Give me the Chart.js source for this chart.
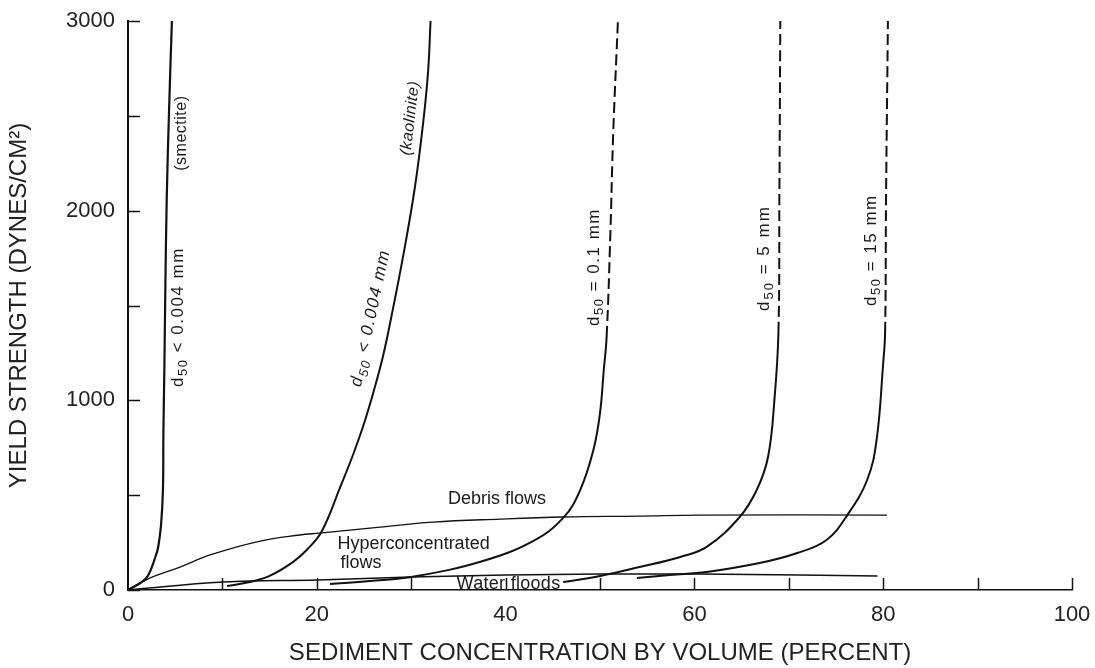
<!DOCTYPE html>
<html><head><meta charset="utf-8">
<script src="https://cdn.jsdelivr.net/npm/chart.js@4.4.0/dist/chart.umd.min.js"></script>
<style>html,body{margin:0;padding:0;background:#fff;}canvas{display:block;}</style>
</head><body>
<canvas id="c" width="1095" height="668"></canvas>
<script>
// ---- data (x: sediment concentration %, y: yield strength dynes/cm²) ----
const xLabelValues = [0, 20, 40, 60, 80, 100];
const yLabelValues = [0, 1000, 2000, 3000];

const smectiteX = [0, 1.3, 2.1, 2.9, 3.2, 3.5, 3.7, 3.75, 3.85, 3.95, 4.1, 4.35, 4.65];
const smectiteY = [0, 37, 74, 174, 227, 343, 527, 828, 1160, 1566, 2056, 2530, 3000];

const kaoliniteX = [10.5, 12.9, 15.0, 17.5, 19.0, 20.5, 22.5, 23.9, 24.95, 25.95, 27.0, 27.9, 29.2, 30.4, 31.3, 31.8, 32.05];
const kaoliniteY = [21, 42, 74, 148, 215, 307, 545, 721, 870, 1035, 1230, 1441, 1775, 2126, 2478, 2741, 3000];

const d01X = [21.4, 25.6, 30.6, 37.6, 42.9, 46.1, 47.9, 49.3, 50.0, 50.4, 50.7, 51.1, 51.4, 51.9];
const d01Y = [32, 47, 74, 153, 258, 380, 527, 738, 933, 1160, 1334, 1882, 2409, 3000];

const d5X = [46.1, 50.0, 54.2, 58.5, 61.3, 64.8, 66.6, 67.8, 68.5, 68.9, 69.0, 69.1];
const d5Y = [42, 74, 121, 174, 227, 385, 527, 701, 1017, 1355, 2056, 3000];

const d15X = [53.9, 57.4, 61.3, 66.9, 70.9, 74.0, 76.2, 78.3, 79.3, 80.0, 80.2, 80.3, 80.5];
const d15Y = [63, 79, 95, 142, 195, 264, 395, 580, 791, 1197, 1355, 2056, 3000];

const debrisX = [0, 0.7, 2.6, 5.5, 8.7, 14.0, 18.2, 20.3, 26.7, 32.3, 39.4, 46.1, 54.2, 60.6, 80.4];
const debrisY = [0, 21, 69, 121, 185, 258, 290, 300, 332, 358, 374, 385, 390, 395, 395];

const waterX = [0, 10.1, 20.1, 30.0, 40.0, 50.0, 60.6, 71.2, 79.4];
const waterY = [0, 42, 53, 68, 79, 84, 84, 79, 74];

// value above which the coarse-sediment curves are drawn dashed (extrapolated)
const dashAbove = 1330;

const pts = (xs, ys) => xs.map((x, i) => ({x: x, y: ys[i]}));

const FONT = '"Liberation Sans", Arial, Helvetica, sans-serif';
const INK = '#111';

function curve(label, xs, ys, width, dashed) {
  return {
    label: label, data: pts(xs, ys), borderColor: INK, borderWidth: width,
    pointRadius: 0, fill: false, showLine: true, tension: 0.4,
    segment: { borderDash: ctx => (dashed && ctx.p0.parsed.y >= dashAbove ? [11, 5] : undefined) }
  };
}

// ---- annotation text (placed in data coordinates) ----
const annotations = [
  {parts: [['(smectite)', 0]], x: 5.7, y: 2409, angle: -90, size: 16, sp: 0.5, italic: false, align: 'center'},
  {parts: [['d', 0], ['50', 1], [' < 0.004 mm', 0]], x: 5.3, y: 1439, angle: -90, size: 17, sp: 1.5, italic: false, align: 'center'},
  {parts: [['(kaolinite)', 0]], x: 29.9, y: 2488, angle: -83.5, size: 16, sp: 0.5, italic: true, align: 'center'},
  {parts: [['d', 0], ['50', 1], [' < 0.004 mm', 0]], x: 25.7, y: 1434, angle: -78, size: 17, sp: 1.5, italic: true, align: 'center'},
  {parts: [['d', 0], ['50', 1], [' = 0.1 mm', 0]], x: 49.4, y: 1703, angle: -90, size: 17, sp: 1.5, italic: false, align: 'center'},
  {parts: [['d', 0], ['50', 1], [' = 5 mm', 0]], x: 67.4, y: 1750, angle: -90, size: 17, sp: 2, italic: false, align: 'center'},
  {parts: [['d', 0], ['50', 1], [' = 15 mm', 0]], x: 78.7, y: 1792, angle: -90, size: 17, sp: 1.5, italic: false, align: 'center'},
  {parts: [['Debris flows', 0]], x: 33.9, y: 477, angle: 0, size: 18, sp: 0, italic: false, align: 'left'},
  {parts: [['Hyperconcentrated', 0]], x: 22.2, y: 242, angle: 0, size: 18, sp: 0, italic: false, align: 'left'},
  {parts: [['flows', 0]], x: 22.5, y: 140, angle: 0, size: 18, sp: 0, italic: false, align: 'left'},
  {parts: [['Water floods', 0]], x: 34.8, y: 34, angle: 0, size: 18, sp: 0.3, italic: false, align: 'left'}
];

const labelPlugin = {
  id: 'curveLabels',
  afterDatasetsDraw(chart) {
    const ctx = chart.ctx, xs = chart.scales.x, ys = chart.scales.y;
    annotations.forEach(a => {
      const px = xs.getPixelForValue(a.x), py = ys.getPixelForValue(a.y);
      ctx.save();
      ctx.translate(px, py);
      ctx.rotate(a.angle * Math.PI / 180);
      ctx.fillStyle = '#1a1a1a';
      ctx.textBaseline = 'middle';
      ctx.textAlign = 'left';
      ctx.letterSpacing = a.sp + 'px';
      const style = a.italic ? 'italic ' : '';
      const fontFor = sub => style + (sub ? Math.round(a.size * 0.78) : a.size) + 'px ' + FONT;
      let total = 0;
      a.parts.forEach(p => { ctx.font = fontFor(p[1]); total += ctx.measureText(p[0]).width; });
      let cx = a.align === 'center' ? -total / 2 : 0;
      a.parts.forEach(p => {
        ctx.font = fontFor(p[1]);
        ctx.fillText(p[0], cx, p[1] ? a.size * 0.32 : 0);
        cx += ctx.measureText(p[0]).width;
      });
      ctx.restore();
    });
  }
};

const tickPlugin = {
  id: 'insideTicks',
  afterDraw(chart) {
    const ctx = chart.ctx, xs = chart.scales.x, ys = chart.scales.y, ca = chart.chartArea;
    ctx.save();
    ctx.strokeStyle = INK;
    ctx.lineWidth = 1.5;
    ctx.beginPath();
    ys.ticks.forEach(t => {
      const py = Math.round(ys.getPixelForValue(t.value)) + 0.5;
      ctx.moveTo(ca.left, py); ctx.lineTo(ca.left + 12, py);
    });
    xs.ticks.forEach(t => {
      if (t.value === 0) return;
      const px = Math.round(xs.getPixelForValue(t.value)) + 0.5;
      ctx.moveTo(px, ca.bottom); ctx.lineTo(px, ca.bottom - 12);
    });
    ctx.stroke();
    ctx.restore();
  }
};

new Chart(document.getElementById('c'), {
  type: 'scatter',
  data: {
    datasets: [
      curve('d50 < 0.004 mm (smectite)', smectiteX, smectiteY, 2.2, false),
      curve('d50 < 0.004 mm (kaolinite)', kaoliniteX, kaoliniteY, 2, false),
      curve('d50 = 0.1 mm', d01X, d01Y, 2, true),
      curve('d50 = 5 mm', d5X, d5Y, 2, true),
      curve('d50 = 15 mm', d15X, d15Y, 2, true),
      curve('Debris flows boundary', debrisX, debrisY, 1.3, false),
      curve('Water floods boundary', waterX, waterY, 1.5, false)
    ]
  },
  options: {
    responsive: false,
    animation: false,
    layout: {padding: {left: 0, top: 21, right: 23, bottom: 0}},
    plugins: {legend: {display: false}, tooltip: {enabled: false}},
    scales: {
      x: {
        type: 'linear', min: 0, max: 100,
        afterFit: s => { s.height = 78; s.paddingLeft = 0; s.paddingRight = 0; },
        grid: {display: false, drawTicks: false},
        border: {display: true, color: INK, width: 1.6},
        ticks: {stepSize: 10, padding: 12, color: '#222', font: {family: FONT, size: 22},
                maxRotation: 0, autoSkip: false,
                callback: v => (xLabelValues.includes(v) ? String(v) : '')},
        title: {display: true, text: 'SEDIMENT CONCENTRATION BY VOLUME (PERCENT)', color: '#222',
                font: {family: FONT, size: 24}, padding: {top: 0, bottom: 0}}
      },
      y: {
        type: 'linear', min: 0, max: 3000,
        afterFit: s => { s.width = 128; s.paddingTop = 0; s.paddingBottom = 0; },
        grid: {display: false, drawTicks: false},
        border: {display: true, color: INK, width: 2},
        ticks: {stepSize: 500, padding: 13, color: '#222', font: {family: FONT, size: 22},
                autoSkip: false,
                callback: v => (yLabelValues.includes(v) ? String(v) : '')},
        title: {display: true, text: 'YIELD STRENGTH (DYNES/CM²)', color: '#222',
                font: {family: FONT, size: 24}, padding: {top: 5, bottom: 0}}
      }
    }
  },
  plugins: [labelPlugin, tickPlugin]
});
</script>
</body></html>
